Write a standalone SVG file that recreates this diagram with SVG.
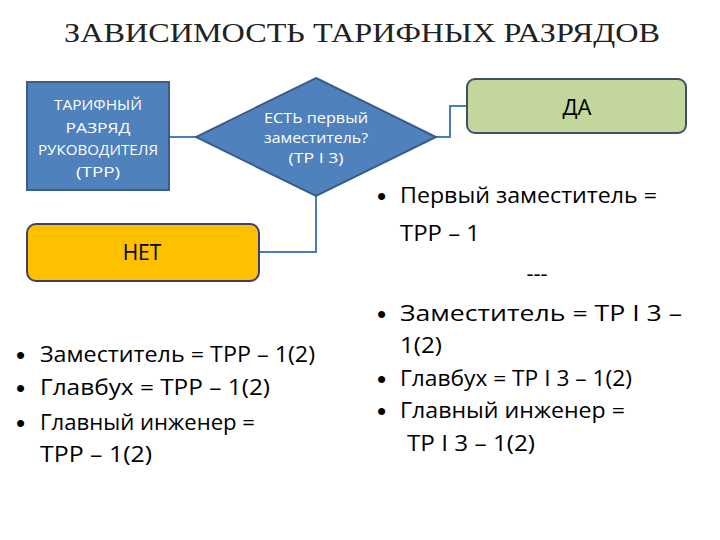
<svg xmlns="http://www.w3.org/2000/svg" width="720" height="540" viewBox="0 0 720 540">
<style>
.t{font-family:"Open Sans","Noto Sans","Liberation Sans",sans-serif}
.w{fill:#fff;font-size:14px;text-anchor:middle}
.b{fill:#000;font-size:22px}
.d{font-size:26px;font-family:"Liberation Sans",sans-serif}
.c{fill:none;stroke:#4A7EBB;stroke-width:2}
</style>
<rect width="720" height="540" fill="#fff"/>
<text x="362" y="42" font-family="Liberation Serif,serif" font-size="28" text-anchor="middle" fill="#222" textLength="596" lengthAdjust="spacingAndGlyphs">ЗАВИСИМОСТЬ ТАРИФНЫХ РАЗРЯДОВ</text>
<g id="connectors">
<path class="c" d="M169 137H196"/>
<path class="c" d="M436 137H450V106H467"/>
<path class="c" d="M316 196V252H259"/>
</g>
<g id="trp">
<rect x="27" y="82" width="142" height="108" fill="#4F81BD" stroke="#385D8A" stroke-width="2"/>
<text class="t w" x="98" y="110" textLength="88" lengthAdjust="spacingAndGlyphs">ТАРИФНЫЙ</text>
<text class="t w" x="98" y="133" textLength="65" lengthAdjust="spacingAndGlyphs">РАЗРЯД</text>
<text class="t w" x="98" y="155" textLength="120" lengthAdjust="spacingAndGlyphs">РУКОВОДИТЕЛЯ</text>
<text class="t w" x="98" y="177" textLength="44" lengthAdjust="spacingAndGlyphs">(ТРР)</text>
</g>
<g id="decision">
<polygon points="316,78 436,137 316,196 196,137" fill="#4F81BD" stroke="#385D8A" stroke-width="2"/>
<text class="t w" x="316" y="123" textLength="104" lengthAdjust="spacingAndGlyphs">ЕСТЬ первый</text>
<text class="t w" x="316" y="143" textLength="104" lengthAdjust="spacingAndGlyphs">заместитель?</text>
<text class="t w" x="316" y="163" textLength="55" lengthAdjust="spacingAndGlyphs">(ТР I 3)</text>
</g>
<g id="yes">
<rect x="467" y="79" width="219" height="54" rx="8" fill="#C3D69B" stroke="#3F5068" stroke-width="2"/>
<text class="t" x="577" y="115" font-size="22" text-anchor="middle" fill="#000">ДА</text>
</g>
<g id="no">
<rect x="27" y="224" width="232" height="57" rx="9" fill="#FFC000" stroke="#3F3F6F" stroke-width="2"/>
<text class="t" x="142" y="260" font-size="21" text-anchor="middle" fill="#000">НЕТ</text>
</g>
<g id="left-list" class="t b">
<text class="d" x="16" y="364">•</text><text x="40" y="362" textLength="275" lengthAdjust="spacingAndGlyphs">Заместитель  =  ТРР  – 1(2)</text>
<text class="d" x="16" y="397">•</text><text x="40" y="395" textLength="230" lengthAdjust="spacingAndGlyphs">Главбух  =  ТРР  –  1(2)</text>
<text class="d" x="16" y="432">•</text><text x="40" y="430" textLength="215" lengthAdjust="spacingAndGlyphs">Главный инженер  =</text>
<text x="40" y="462" textLength="112" lengthAdjust="spacingAndGlyphs">ТРР  –  1(2)</text>
</g>
<g id="right-list" class="t b">
<text class="d" x="377" y="205">•</text><text x="400" y="203" textLength="257" lengthAdjust="spacingAndGlyphs">Первый заместитель =</text>
<text x="400" y="241" textLength="80" lengthAdjust="spacingAndGlyphs">ТРР – 1</text>
<text x="537" y="281" text-anchor="middle">---</text>
<text class="d" x="377" y="323">•</text><text x="400" y="321" textLength="282" lengthAdjust="spacingAndGlyphs">Заместитель  =  ТР  I  3  –</text>
<text x="400" y="353" textLength="42" lengthAdjust="spacingAndGlyphs">1(2)</text>
<text class="d" x="377" y="388">•</text><text x="400" y="386" textLength="232" lengthAdjust="spacingAndGlyphs">Главбух = ТР I 3 – 1(2)</text>
<text class="d" x="377" y="420">•</text><text x="400" y="418" textLength="225" lengthAdjust="spacingAndGlyphs">Главный инженер =</text>
<text x="407" y="451" textLength="128" lengthAdjust="spacingAndGlyphs">ТР I 3 – 1(2)</text>
</g>
</svg>
